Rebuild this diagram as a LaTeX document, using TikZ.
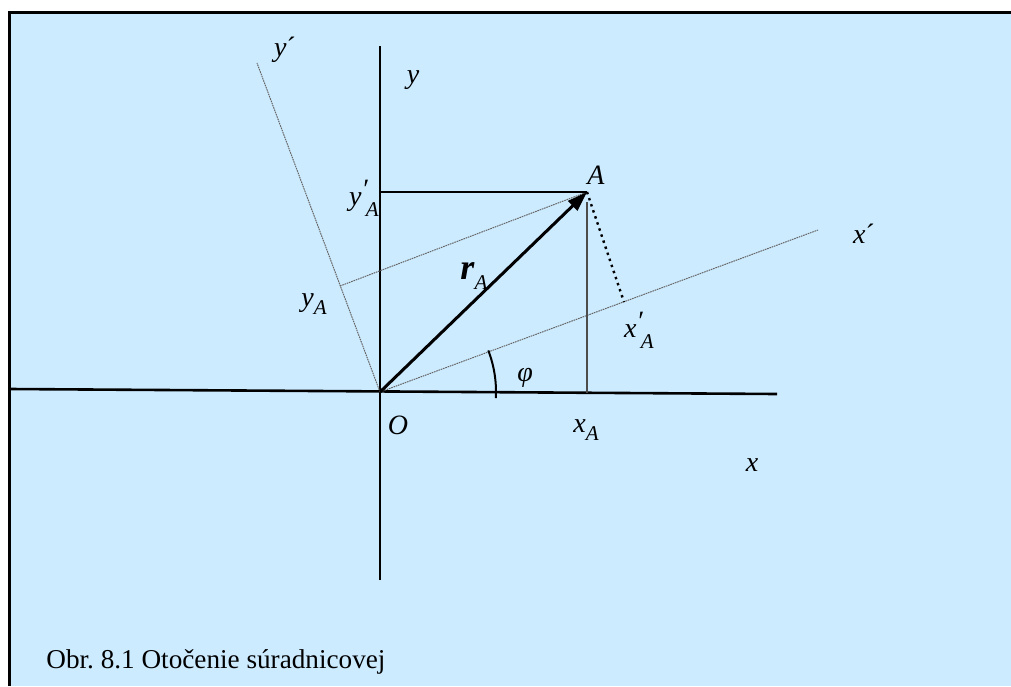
\documentclass[tikz,border=0pt]{standalone}
\usepackage{fontspec}
\setmainfont{Liberation Serif}
\usepackage{xcolor}
\usetikzlibrary{arrows.meta}
\definecolor{bgblue}{RGB}{204,235,255}
\frenchspacing
\newcommand{\lblsub}[2]{\textit{#1}\raisebox{-0.6ex}{\fontsize{10.5}{11}\selectfont\textit{#2}}}
\newcommand{\lblsubp}[2]{\textit{#1}\raisebox{0.6ex}{\textit{′}}\kern-0.08em\raisebox{-0.8ex}{\fontsize{10.5}{11}\selectfont\textit{#2}}}

\begin{document}
\begin{tikzpicture}[
    x=0.5pt, y=-0.5pt,
    axisline/.style={line width=1.3pt},
    rotaxis/.style={line width=0.5pt, gray!80!black, dash pattern=on 0.8pt off 0.4pt},
    projline/.style={line width=0.6pt},
    vec/.style={-{Triangle[length=10pt,width=6.5pt]}, line width=1.5pt},
    lbl/.style={font=\fontsize{14}{16}\selectfont, inner sep=0pt}
]
  \useasboundingbox (0,0) rectangle (1011,686);
  \fill[bgblue] (9,12) rectangle (1011,686);
  \draw[line width=1.5pt] (9,686) -- (9,12) -- (1011,12);

  \coordinate (O) at (380,392);
  \coordinate (A) at (587,192);
  \coordinate (xl) at (10,389);
  \coordinate (xr) at (777,394);
  \coordinate (yb) at (380,580);
  \coordinate (yt) at (380,46);
  \coordinate (xpend) at (818,230);
  \coordinate (ypend) at (257,63);
  \coordinate (yAx) at (380,192);
  \coordinate (xAx) at (587,393);
  \coordinate (Abelow) at (587,202);
  \coordinate (yAp) at (340,286);
  \coordinate (xAp) at (624,302);

  \draw[axisline] (xl) -- (xr);
  \draw[axisline] (yb) -- (yt);
  \draw[rotaxis] (O) -- (xpend);
  \draw[rotaxis] (O) -- (ypend);
  \draw[rotaxis] (yAp) -- (A);
  \draw[projline] (yAx) -- (A);
  \draw[projline, gray!60!black] (Abelow) -- (xAx);
  \draw[line width=1.2pt, dotted] (A) -- (xAp);
  \draw[vec] (O) -- (A);
  \draw[line width=1pt] (O) ++(3:116) arc[start angle=3, end angle=-21, radius=116];

  \node[lbl] (yplbl) at (285,50) {\textit{y}´};
  \node[lbl] (ylbl) at (413,80) {\textit{y}};
  \node[lbl] (yAplbl) at (364,198) {\lblsubp{y}{A}};
  \node[lbl] (Albl) at (596,175) {\textit{A}};
  \node[lbl, font=\fontsize{18}{20}\selectfont] (rAlbl) at (474,276)
    {\textbf{\textit{r}}\raisebox{-0.55ex}{\fontsize{10.5}{11}\selectfont\textit{A}}};
  \node[lbl] (yAlbl) at (314,304) {\lblsub{y}{A}};
  \node[lbl] (xplbl) at (864,234) {\textit{x}´};
  \node[lbl] (xAplbl) at (639,330) {\lblsubp{x}{A}};
  \node[lbl] (philbl) at (525,378) {\textit{φ}};
  \node[lbl] (Olbl) at (398,425) {\textit{O}};
  \node[lbl] (xAlbl) at (586,430) {\lblsub{x}{A}};
  \node[lbl] (xlbl) at (752,465) {\textit{x}};
  \node[anchor=base west, inner sep=0pt, font=\fontsize{13.6}{16}\selectfont]
    (caption) at (46,668) {Obr. 8.1 Otočenie súradnicovej};
\end{tikzpicture}
\end{document}
